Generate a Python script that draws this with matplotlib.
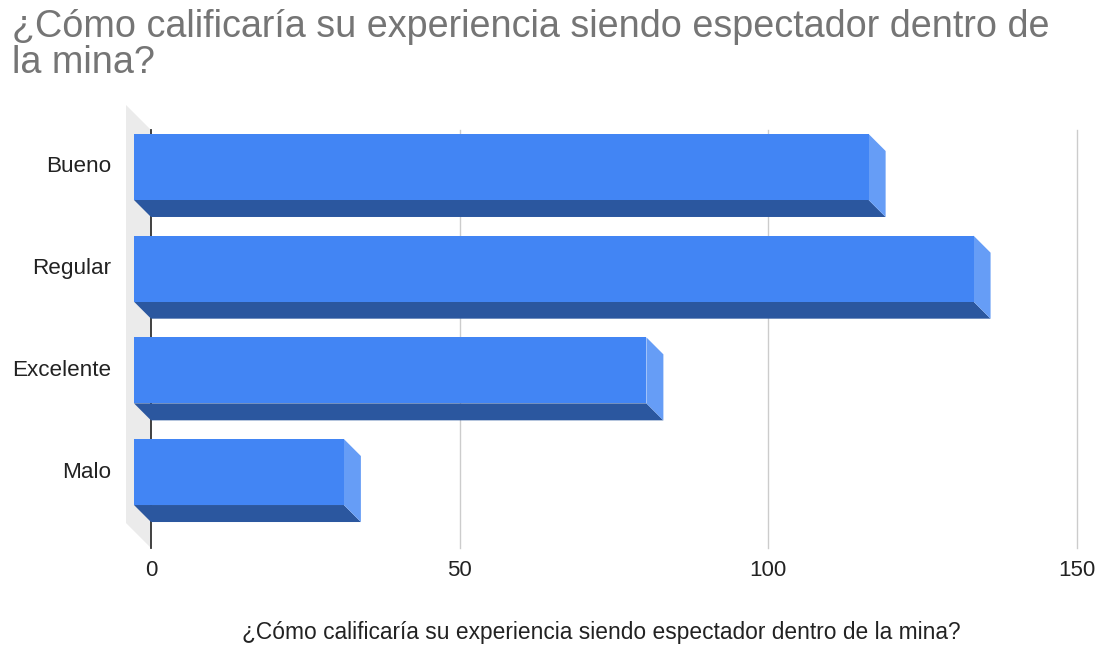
import matplotlib
matplotlib.use("Agg")
import matplotlib.pyplot as plt
from matplotlib.patches import Polygon

plt.rcParams['font.family'] = ['Liberation Sans', 'DejaVu Sans']

title_lines = ["¿Cómo calificaría su experiencia siendo espectador dentro de", "la mina?"]
axis_title = "¿Cómo calificaría su experiencia siendo espectador dentro de la mina?"
categories = ["Bueno", "Regular", "Excelente", "Malo"]
values = [119, 136, 83, 34]
x_ticks = [0, 50, 100, 150]

FRONT = '#4285f4'
BOTTOM = '#2b579f'
SIDE = '#669df6'
WALL = '#ebebeb'

W, H = 1111, 645
fig = plt.figure(figsize=(W / 100, H / 100), dpi=100)
ax = fig.add_axes([151 / W, (H - 548) / H, 926 / W, 418 / H])
ax.set_xlim(0, 150)
ax.set_ylim(3.58, -0.531)
for s in ax.spines.values():
    s.set_visible(False)
ax.set_yticks([])
ax.set_xticks(x_ticks)
ax.set_xticklabels([str(t) for t in x_ticks])
ax.tick_params(axis='x', length=0, pad=8.5, labelsize=16, labelcolor='#222222')


def px_to_data(dx_px, dy_px):
    # convert a pixel offset into data units (y axis is inverted)
    inv = ax.transData.inverted()
    x0, y0 = ax.transData.transform((0, 0))
    x1, y1 = inv.transform((x0 + dx_px, y0 + dy_px))
    return x1, y1


depth_x, depth_y = px_to_data(-17, 17)   # front face sits up and to the left
wall_x, wall_y = px_to_data(-25, 25)
bar_h = 0.649
ymin, ymax = 3.58, -0.531

# left wall of the 3d box
ax.add_patch(Polygon([(0, ymax), (0, ymin), (wall_x, ymin + wall_y), (wall_x, ymax + wall_y)],
                     closed=True, facecolor=WALL, edgecolor='none', clip_on=False, zorder=0))

for t in x_ticks[1:]:
    ax.plot([t, t], [ymin, ymax], color='#cccccc', lw=1, zorder=1, clip_on=False)
ax.plot([0, 0], [ymin, ymax], color='#333333', lw=1.3, zorder=1, clip_on=False)

for i, v in enumerate(values):
    top, bot = i - bar_h / 2, i + bar_h / 2
    ftop, fbot = top + depth_y, bot + depth_y
    # bottom face
    ax.add_patch(Polygon([(depth_x, fbot), (v + depth_x, fbot), (v, bot), (0, bot)],
                         closed=True, facecolor=BOTTOM, edgecolor='none', clip_on=False, zorder=2))
    # right face
    ax.add_patch(Polygon([(v + depth_x, ftop), (v, top), (v, bot), (v + depth_x, fbot)],
                         closed=True, facecolor=SIDE, edgecolor='none', clip_on=False, zorder=2))
    # front face
    ax.add_patch(Polygon([(depth_x, ftop), (v + depth_x, ftop), (v + depth_x, fbot), (depth_x, fbot)],
                         closed=True, facecolor=FRONT, edgecolor='none', clip_on=False, zorder=3))
    ax.annotate(categories[i], xy=(0, i), xytext=(-40, 17), textcoords='offset pixels',
                ha='right', va='center', fontsize=16.2, color='#222222', annotation_clip=False)

# wrapped chart title
for k, line in enumerate(title_lines):
    fig.text(12 / W, 1 - (37 + 36 * k) / H, line, ha='left', va='baseline', fontsize=27.2,
             color='#757575')
fig.text(601 / W, 1 - 632 / H, axis_title, ha='center', va='center', fontsize=16.4,
         color='#222222')

fig.savefig('out.png', dpi=100)
